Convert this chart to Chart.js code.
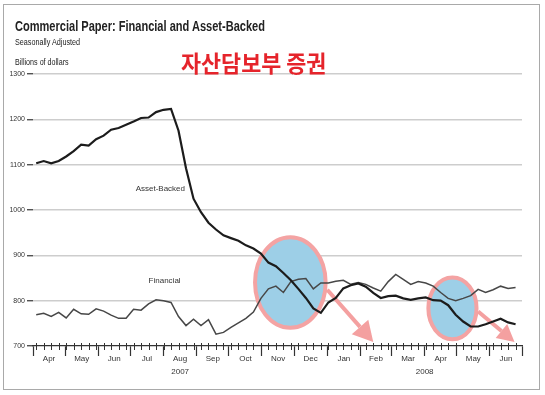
<!DOCTYPE html>
<html>
<head>
<meta charset="utf-8">
<script src="https://cdn.jsdelivr.net/npm/chart.js@4"></script>
<style>
body{margin:0;background:#fff;}
#wrap{position:relative;width:545px;height:395px;overflow:hidden;}
#frame{position:absolute;left:3px;top:4px;width:537px;height:386px;border:1px solid #a9a9a9;box-sizing:border-box;}
#myChart{position:absolute;left:0;top:0;}
.txt{position:absolute;font-family:"Liberation Sans",Arial,sans-serif;color:#222;white-space:nowrap;transform-origin:0 0;line-height:1;}
#titulo{left:15px;top:19px;font-size:14px;font-weight:bold;}
#sub{left:15px;top:38px;font-size:9px;}
#unidad{left:15px;top:58px;font-size:9px;}
#coreano{left:181px;top:51px;font-family:"Noto Sans CJK KR",sans-serif;font-weight:bold;font-size:23px;color:#e5242b;}
</style>
</head>
<body>
<div id="wrap">
  <canvas id="myChart" width="545" height="395"></canvas>
  <div id="frame"></div>
  <div class="txt" id="titulo">Commercial Paper: Financial and Asset-Backed</div>
  <div class="txt" id="sub">Seasonally Adjusted</div>
  <div class="txt" id="unidad">Billions of dollars</div>
  <div class="txt" id="coreano">자산담보부 증권</div>
</div>
<script>
// semanal, primer miércoles: 2007-04-04
const primeraSemana = Date.UTC(2007, 3, 4)
const origen = Date.UTC(2007, 3, 1)

const assetBacked = [1103,1108,1103,1108,1118,1130,1144,1142,1156,1164,1177,1181,1188,1195,1203,1204,1216,1221,1223,1175,
  1092,1025,995,972,957,944,938,932,922,915,904,884,876,861,845,826,806,783,773,796,
  806,827,834,838,831,817,806,810,811,805,802,805,807,801,800,790,769,754,743,743,
  748,754,760,752,748]

const financial = [769,772,765,774,762,781,771,770,782,777,768,761,761,781,779,793,802,800,796,765,
  745,759,745,758,726,730,741,751,761,775,805,826,832,818,842,847,849,826,839,839,
  843,845,836,840,836,828,821,842,858,847,836,842,839,832,818,805,800,805,811,825,
  818,824,832,827,829]

const meses = ["Apr","May","Jun","Jul","Aug","Sep","Oct","Nov","Dec","Jan","Feb","Mar","Apr","May","Jun"]
const anios = ["2007","2008"]
const yTicks = [700,800,900,1000,1100,1200,1300]

const dia = ms => (ms - origen) / 86400000
const semanas = assetBacked.map((v, i) => dia(primeraSemana) + 7 * i)

// limites de mes y puntos medios para las etiquetas
const limites = []
for (let i = 0; i <= meses.length; i++) limites.push(dia(Date.UTC(2007, 3 + i, 1)))
const xTicks = []
for (let i = 0; i < meses.length; i++) {
  xTicks.push(limites[i])
  xTicks.push((limites[i] + limites[i + 1]) / 2)
}
xTicks.push(limites[meses.length])

const ajustar = (id, ancho) => {
  const el = document.getElementById(id)
  el.style.transform = `scaleX(${ancho / el.scrollWidth})`
}
ajustar("titulo", 250)
ajustar("sub", 65)
ajustar("unidad", 54)
ajustar("coreano", 145)

const anotaciones = {
  id: "anotaciones",
  beforeDatasetsDraw(chart) {
    const { ctx, scales: { x, y } } = chart
    const px = d => x.getPixelForValue(d)
    const py = v => y.getPixelForValue(v)
    const elipses = [
      { d: 240.5, v: 840, rd: 33, rv: 100 },
      { d: 392, v: 783, rd: 22.5, rv: 68 }
    ]
    ctx.save()
    elipses.forEach(e => {
      const cx = px(e.d), cy = py(e.v)
      const rx = Math.abs(px(e.d + e.rd) - cx), ry = Math.abs(py(e.v + e.rv) - cy)
      ctx.beginPath()
      ctx.ellipse(cx, cy, rx, ry, 0, 0, Math.PI * 2)
      ctx.fillStyle = "#9dcfe7"
      ctx.fill()
      ctx.lineWidth = 4
      ctx.strokeStyle = "#f4a3a3"
      ctx.stroke()
    })
    const flechas = [
      { d0: 275, v0: 824, d1: 318, v1: 709, cabeza: 20, ancho: 11 },
      { d0: 416, v0: 776, d1: 450, v1: 709, cabeza: 17, ancho: 9 }
    ]
    flechas.forEach(f => {
      const x0 = px(f.d0), y0 = py(f.v0), x1 = px(f.d1), y1 = py(f.v1)
      const ang = Math.atan2(y1 - y0, x1 - x0)
      const bx = x1 - f.cabeza * Math.cos(ang), by = y1 - f.cabeza * Math.sin(ang)
      ctx.strokeStyle = "#f4a0a0"
      ctx.fillStyle = "#f4a0a0"
      ctx.lineWidth = 4
      ctx.beginPath()
      ctx.moveTo(x0, y0)
      ctx.lineTo(bx, by)
      ctx.stroke()
      ctx.beginPath()
      ctx.moveTo(x1, y1)
      ctx.lineTo(bx + f.ancho * Math.sin(ang), by - f.ancho * Math.cos(ang))
      ctx.lineTo(bx - f.ancho * Math.sin(ang), by + f.ancho * Math.cos(ang))
      ctx.closePath()
      ctx.fill()
    })
    ctx.restore()
  },
  afterDraw(chart) {
    const { ctx, scales: { x, y } } = chart
    const base = y.getPixelForValue(700)
    ctx.save()
    // marcas semanales
    ctx.strokeStyle = "#333"
    ctx.lineWidth = 1
    semanas.forEach(d => {
      const xx = Math.round(x.getPixelForValue(d)) + 0.5
      ctx.beginPath()
      ctx.moveTo(xx, base - 3)
      ctx.lineTo(xx, base + 4)
      ctx.stroke()
    })
    ctx.fillStyle = "#333"
    ctx.font = "8px 'Liberation Sans', Arial, sans-serif"
    ctx.textAlign = "center"
    ctx.textBaseline = "middle"
    ctx.fillText(anios[0], (x.getPixelForValue(limites[0]) + x.getPixelForValue(limites[9])) / 2, 372)
    ctx.fillText(anios[1], (x.getPixelForValue(limites[9]) + x.getPixelForValue(limites[15])) / 2, 372)
    ctx.fillText("Asset-Backed", x.getPixelForValue(119), y.getPixelForValue(1047))
    ctx.fillText("Financial", x.getPixelForValue(123), y.getPixelForValue(843))
    ctx.restore()
  }
}

const ctx = document.getElementById("myChart").getContext("2d")
Chart.defaults.font.family = "'Liberation Sans', Arial, sans-serif"

const myChart = new Chart(ctx, {
  type: "line",
  data: {
    datasets: [
      {
        label: "Asset-Backed",
        data: semanas.map((d, i) => ({ x: d, y: assetBacked[i] })),
        borderColor: "#1c1c1c",
        borderWidth: 2.2,
        pointRadius: 0,
        tension: 0
      },
      {
        label: "Financial",
        data: semanas.map((d, i) => ({ x: d, y: financial[i] })),
        borderColor: "#474747",
        borderWidth: 1.5,
        pointRadius: 0,
        tension: 0
      }
    ]
  },
  options: {
    responsive: false,
    animation: false,
    layout: { padding: { left: 0, right: 23, top: 74, bottom: 0 } },
    plugins: { legend: { display: false }, tooltip: { enabled: false } },
    scales: {
      x: {
        type: "linear",
        min: limites[0],
        max: limites[meses.length],
        afterBuildTicks: s => { s.ticks = xTicks.map(v => ({ value: v })) },
        afterFit: s => { s.height = 49 },
        ticks: {
          autoSkip: false,
          maxRotation: 0,
          padding: -2,
          color: "#333",
          font: { size: 8 },
          callback: (v, i) => (i % 2 === 1 ? meses[(i - 1) / 2] : "")
        },
        grid: {
          drawOnChartArea: false,
          tickLength: 10,
          tickWidth: 1.2,
          tickColor: c => (c.index % 2 === 0 ? "#333" : "rgba(0,0,0,0)")
        },
        border: { color: "#333", width: 1.3 }
      },
      y: {
        min: 700,
        max: 1300,
        afterBuildTicks: s => { s.ticks = yTicks.map(v => ({ value: v })) },
        afterFit: s => { s.width = 33 },
        ticks: { color: "#333", font: { size: 7 }, padding: 2, callback: v => String(v) },
        grid: {
          color: c => (c.tick && c.tick.value === 700 ? "rgba(0,0,0,0)" : "#cdcdcd"),
          lineWidth: 1.5,
          tickLength: 6,
          tickWidth: 1.2,
          tickColor: "#333"
        },
        border: { display: false }
      }
    }
  },
  plugins: [anotaciones]
})
</script>
</body>
</html>
